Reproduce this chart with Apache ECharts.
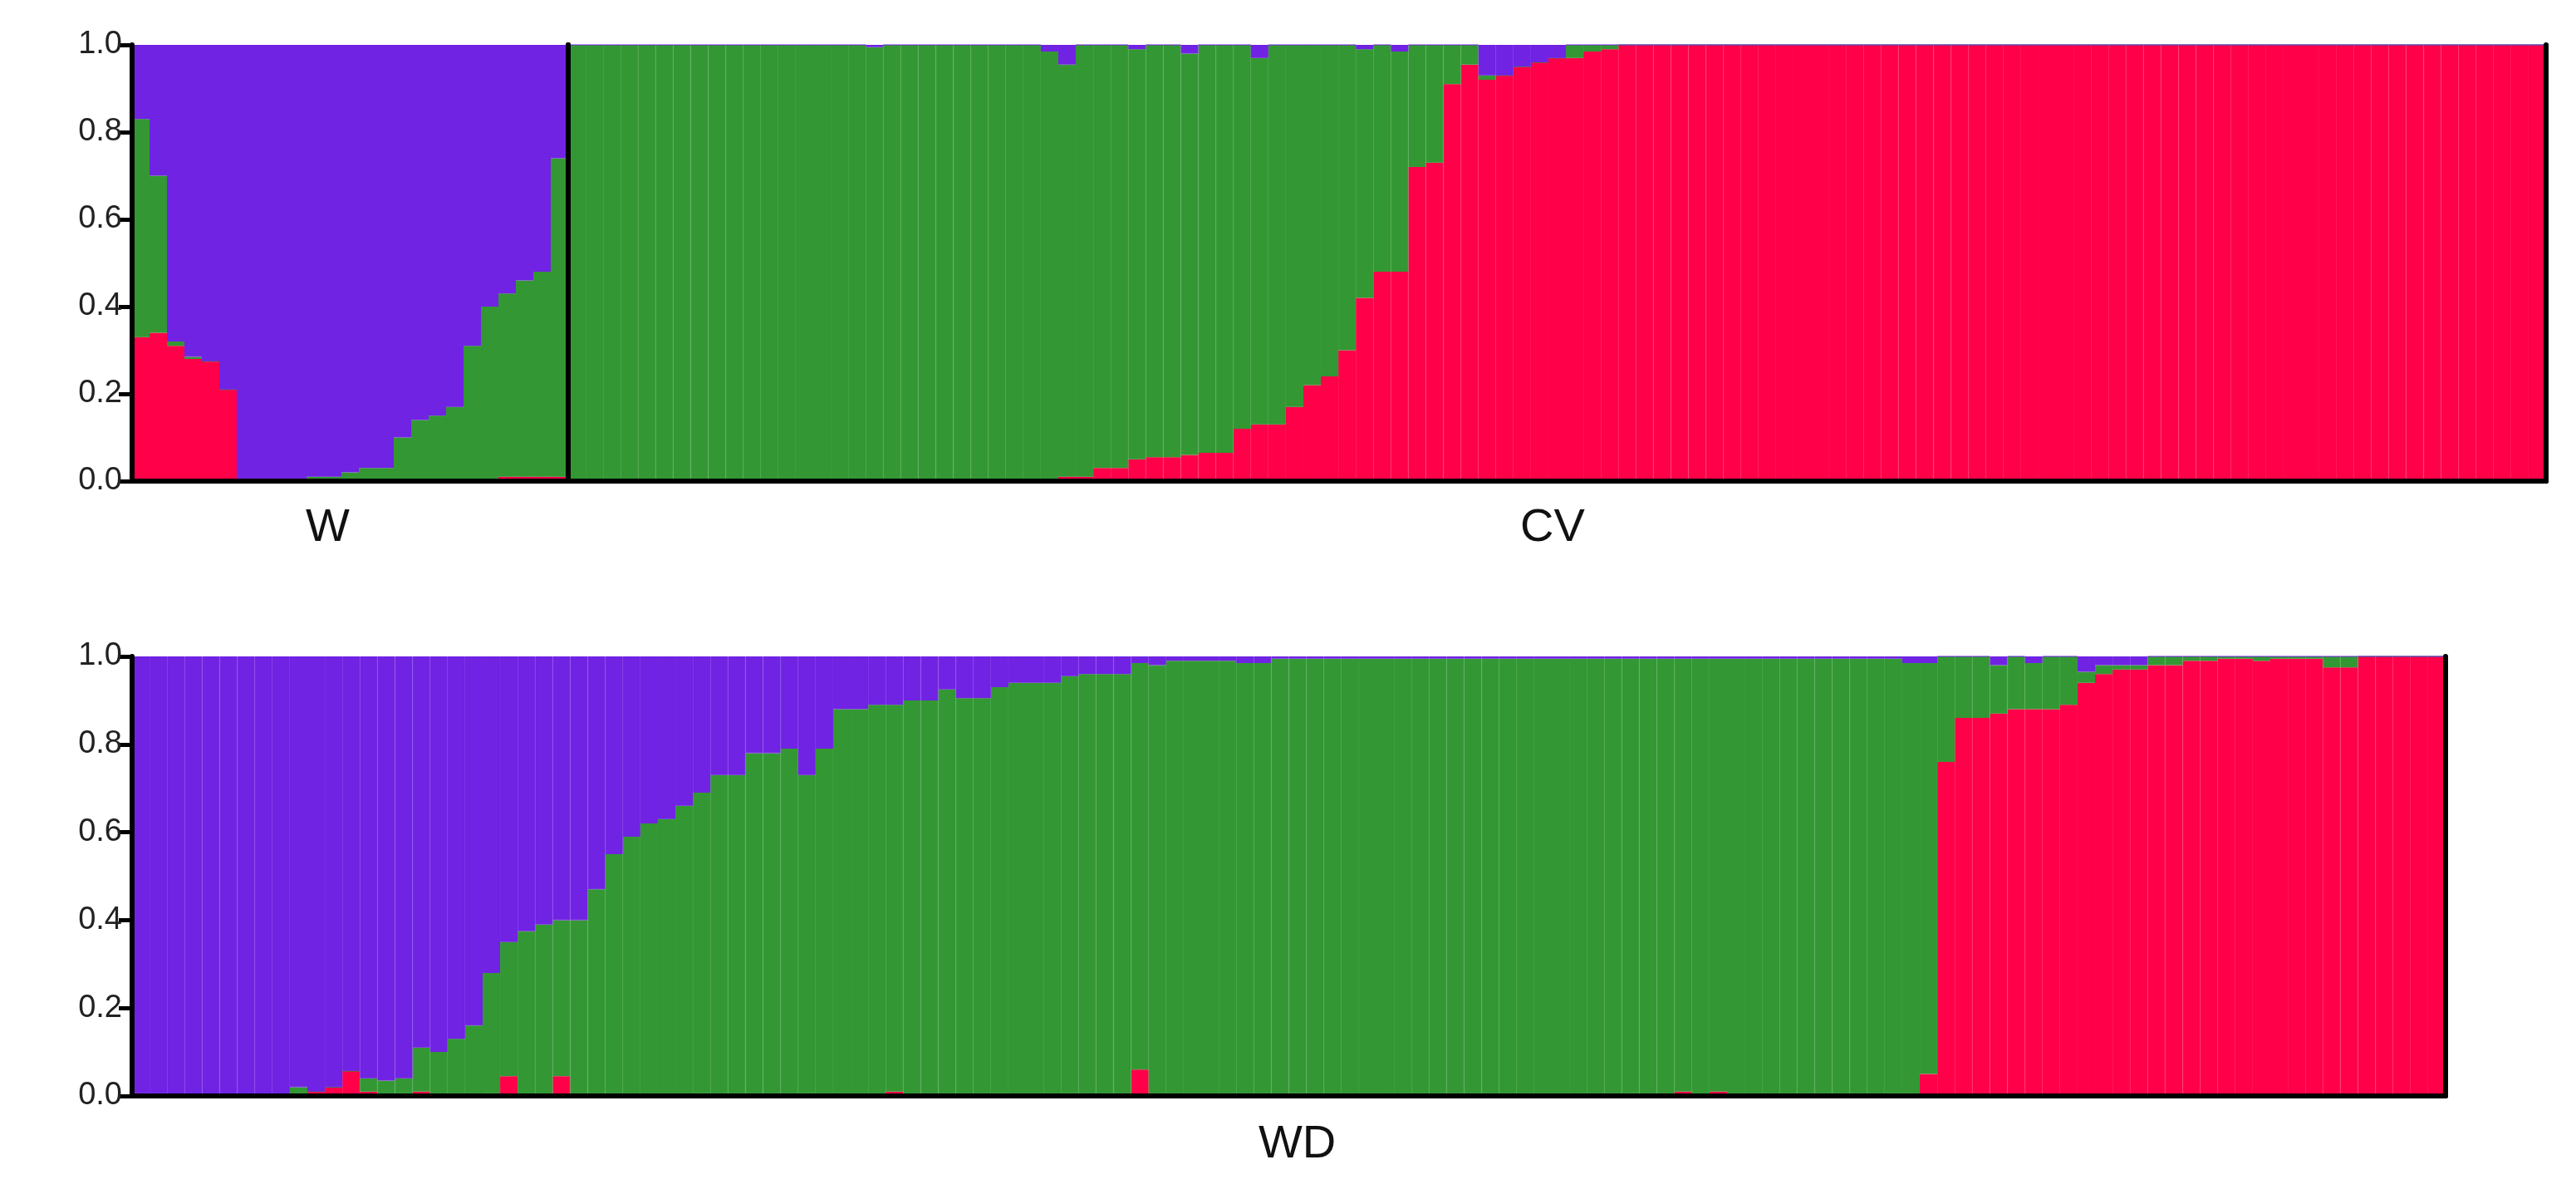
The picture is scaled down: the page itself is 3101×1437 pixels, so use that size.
<!DOCTYPE html>
<html><head><meta charset="utf-8">
<script src="https://cdn.jsdelivr.net/npm/echarts@6/dist/echarts.min.js"></script>
<style>html,body{margin:0;padding:0;background:#fff}#c{width:3101px;height:1437px}</style>
</head><body><div id="c"></div>
<script>
// Cluster colours: red (K1), green (K2), purple (K3 = remainder)
const yTicks = [0, 0.2, 0.4, 0.6, 0.8, 1.0];
const groupLabels = ['W', 'CV', 'WD'];

const wRed = [0.33,0.34,0.31,0.28,0.275,0.21,0,0,0,0, 0,0,0,0,0,0,0,0,0,0, 0,0.01,0.01,0.01,0.01];
const wGreen = [0.50,0.36,0.01,0.005,0,0,0,0,0,0, 0.01,0.01,0.02,0.03,0.03,0.10,0.14,0.15,0.17,0.31, 0.40,0.42,0.45,0.47,0.73];

const cvRed = [
 0,0,0,0,0,0,0,0,0,0,
 0,0,0,0,0,0,0,0,0,0,
 0,0,0,0,0,0,0,0,0.01,0.01,
 0.03,0.03,0.05,0.055,0.055,0.06,0.065,0.065,0.12,0.13,
 0.13,0.17,0.22,0.24,0.30,0.42,0.48,0.48,0.72,0.73,
 0.91,0.955,0.92,0.93,0.95,0.96,0.97,0.97,0.985,0.99,
 1,1,1,1,1,1,1,1,1,1,
 1,1,1,1,1,1,1,1,1,1,
 1,1,1,1,1,1,1,1,1,1,
 1,1,1,1,1,1,1,1,1,1,
 1,1,1,1,1,1,1,1,1,1,
 1,1,1];
const cvGreen = [
 1,1,1,1,1,1,1,1,1,1,
 1,1,1,1,1,1,1,0.995,1,1,
 1,1,1,1,1,1,1,0.985,0.945,0.99,
 0.97,0.97,0.94,0.945,0.945,0.92,0.935,0.935,0.88,0.84,
 0.87,0.83,0.78,0.76,0.70,0.57,0.52,0.505,0.28,0.27,
 0.09,0.045,0.01,0,0,0,0,0.03,0.015,0.01,
 0,0,0,0,0,0,0,0,0,0,
 0,0,0,0,0,0,0,0,0,0,
 0,0,0,0,0,0,0,0,0,0,
 0,0,0,0,0,0,0,0,0,0,
 0,0,0,0,0,0,0,0,0,0,
 0,0,0];

const wdRed = [
 0,0,0,0,0,0,0,0,0,0,
 0.01,0.02,0.057,0.01,0,0.005,0.01,0,0,0,
 0.005,0.045,0,0,0.045,0,0,0,0,0,
 0,0,0.005,0,0,0,0,0,0.005,0,
 0,0,0,0.01,0,0,0,0,0,0.005,
 0,0,0,0.005,0,0,0,0.06,0,0,
 0,0,0,0,0,0,0.005,0,0,0,
 0,0,0,0,0,0,0,0,0,0,
 0,0,0,0,0,0.005,0,0,0.01,0,
 0.01,0,0,0,0,0,0,0,0,0,
 0.005,0.005,0.05,0.76,0.86,0.86,0.87,0.88,0.88,0.88,
 0.89,0.94,0.96,0.97,0.97,0.98,0.98,0.99,0.99,0.995,
 0.995,0.99,0.995,0.995,0.995,0.975,0.975,1,1,1,
 1,1];
const wdGreen = [
 0.005,0.005,0,0,0,0,0,0,0,0.02,
 0,0,0,0.03,0.035,0.035,0.10,0.10,0.13,0.16,
 0.275,0.305,0.375,0.39,0.355,0.40,0.47,0.55,0.59,0.62,
 0.63,0.66,0.685,0.73,0.73,0.78,0.78,0.79,0.725,0.79,
 0.88,0.88,0.89,0.88,0.90,0.90,0.925,0.905,0.905,0.925,
 0.94,0.94,0.94,0.95,0.96,0.96,0.96,0.925,0.98,0.99,
 0.99,0.99,0.99,0.985,0.985,0.995,0.99,0.995,0.995,0.995,
 0.995,0.995,0.995,0.995,0.995,0.995,0.995,0.995,0.995,0.995,
 0.995,0.995,0.995,0.995,0.995,0.99,0.995,0.995,0.985,0.995,
 0.985,0.995,0.995,0.995,0.995,0.995,0.995,0.995,0.995,0.995,
 0.99,0.98,0.935,0.24,0.14,0.14,0.11,0.12,0.105,0.12,
 0.11,0.025,0.02,0.01,0.01,0.02,0.02,0.01,0.01,0.005,
 0.005,0.01,0.005,0.005,0.005,0.025,0.025,0,0,0,
 0,0];

const RED = '#ff0049', GREEN = '#339833', PURPLE = '#7023e3';
const chart = echarts.init(document.getElementById('c'), null, {renderer: 'canvas'});
const FONT = 'Liberation Sans, Arial, sans-serif';
const panels = [
  {red: wRed, green: wGreen, grid: {left: 159, width: 525, top: 54, height: 525}, labels: true},
  {red: cvRed, green: cvGreen, grid: {left: 684, right: 36, top: 54, height: 525}, labels: false},
  {red: wdRed, green: wdGreen, grid: {left: 159, right: 157, top: 790, height: 529}, labels: true}
];
const grid = [], xAxis = [], yAxis = [], series = [];
const line = {show: true, lineStyle: {color: '#000', width: 6}};
panels.forEach((p, gi) => {
  grid.push(p.grid);
  const cats = p.red.map((_, i) => String(i + 1));
  const xb = xAxis.length;
  xAxis.push({type: 'category', gridIndex: gi, data: cats, position: 'bottom', axisLine: line, axisTick: {show: false}, axisLabel: {show: false}, z: 10});
  xAxis.push({type: 'category', gridIndex: gi, data: cats, position: 'top', axisLine: line, axisTick: {show: false}, axisLabel: {show: false}, z: 10});
  const yb = yAxis.length;
  yAxis.push({type: 'value', gridIndex: gi, min: 0, max: 1, interval: 0.2, position: 'left', splitLine: {show: false},
    axisLine: line, z: 10,
    axisTick: {show: p.labels, length: 16, lineStyle: {color: '#000', width: 5}},
    axisLabel: {show: p.labels, fontSize: 38, color: '#222', fontFamily: FONT, margin: 12, formatter: v => v.toFixed(1)}});
  yAxis.push({type: 'value', gridIndex: gi, min: 0, max: 1, interval: 0.2, position: 'right', splitLine: {show: false},
    axisLine: line, axisTick: {show: false}, axisLabel: {show: false}, z: 10});
  const purple = p.red.map((r, i) => Math.max(0, 1 - r - p.green[i]));
  [[p.red, RED], [p.green, GREEN], [purple, PURPLE]].forEach(([d, c]) => {
    series.push({type: 'bar', stack: 'g' + gi, xAxisIndex: xb, yAxisIndex: yb, data: d, barWidth: '100%',
      barCategoryGap: 0, z: 1, itemStyle: {color: c, borderColor: c, borderWidth: 1.2}, silent: true, animation: false});
  });
});
chart.setOption({
  animation: false,
  grid, xAxis, yAxis, series,
  graphic: [
    {type: 'text', left: 368, top: 608, style: {text: groupLabels[0], fill: '#111', font: '56px ' + FONT}},
    {type: 'text', left: 1830, top: 608, style: {text: groupLabels[1], fill: '#111', font: '56px ' + FONT}},
    {type: 'text', left: 1515, top: 1350, style: {text: groupLabels[2], fill: '#111', font: '56px ' + FONT}}
  ]
});
</script></body></html>
